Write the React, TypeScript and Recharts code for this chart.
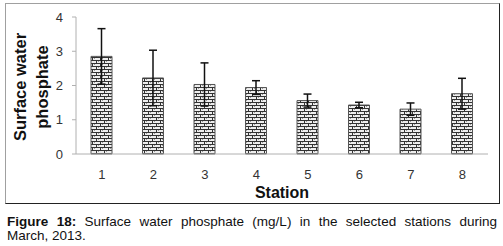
import React from 'react';
import { BarChart, Bar, XAxis, YAxis, ErrorBar } from 'recharts';

const stations = ['1', '2', '3', '4', '5', '6', '7', '8'];
const phosphate = [2.85, 2.22, 2.03, 1.94, 1.56, 1.43, 1.31, 1.76];
const stdDev = [0.81, 0.81, 0.63, 0.2, 0.19, 0.08, 0.18, 0.45];
const yTicks = [0, 1, 2, 3, 4];

const data = stations.map((s, i) => ({ station: s, value: phosphate[i], err: stdDev[i] }));

const font = 'Liberation Sans, Arial, sans-serif';

export default function App() {
  return (
    <div style={{ position: 'absolute', left: 0, top: 0, width: 503, height: 246, background: '#fff', overflow: 'hidden' }}>
      <div
        style={{
          position: 'absolute',
          left: 5,
          top: 3,
          width: 493,
          height: 199,
          borderTop: '1px solid #a0a0a0',
          borderLeft: '1px solid #a0a0a0',
          borderRight: '1px solid #222',
          borderBottom: '1px solid #222',
        }}
      />
      <div style={{ position: 'absolute', left: 0, top: 0 }}>
        <BarChart width={503} height={246} data={data} margin={{ top: 17, right: 15, bottom: 62, left: 56 }}>
          <defs>
            <pattern id="brick" width="8" height="6" patternUnits="userSpaceOnUse">
              <rect x="0" y="0" width="8" height="6" fill="#eeeeee" />
              <rect x="0" y="0" width="8" height="1" fill="#333" />
              <rect x="0" y="3" width="8" height="1" fill="#333" />
              <rect x="0" y="0" width="1" height="3" fill="#333" />
              <rect x="4" y="3" width="1" height="3" fill="#333" />
              <rect x="2" y="1" width="1" height="1" fill="#999" />
              <rect x="6" y="4" width="1" height="1" fill="#999" />
            </pattern>
          </defs>
          <XAxis
            dataKey="station"
            axisLine={{ stroke: '#b0b0b0' }}
            tickLine={false}
            tickMargin={10}
            height={30}
            tick={{ fill: '#333', fontSize: 13, fontFamily: font }}
          />
          <YAxis
            domain={[0, 4]}
            ticks={yTicks}
            width={20}
            axisLine={{ stroke: '#b0b0b0' }}
            tickLine={{ stroke: '#b0b0b0' }}
            tickSize={4}
            tickMargin={9}
            tick={{ fill: '#333', fontSize: 13, fontFamily: font }}
          />
          <Bar dataKey="value" barSize={21} fill="url(#brick)" stroke="#555" strokeWidth={1} isAnimationActive={false}>
            <ErrorBar dataKey="err" width={4} stroke="#111" strokeWidth={1.5} direction="y" />
          </Bar>
        </BarChart>
      </div>
      <div
        style={{
          position: 'absolute',
          left: 282,
          top: 184,
          transform: 'translateX(-50%)',
          fontFamily: font,
          fontWeight: 'bold',
          fontSize: 16,
          lineHeight: '17px',
          color: '#111',
          whiteSpace: 'nowrap',
        }}
      >
        Station
      </div>
      <div
        style={{
          position: 'absolute',
          left: 31,
          top: 87,
          transform: 'translate(-50%, -50%) rotate(-90deg)',
          fontFamily: font,
          fontWeight: 'bold',
          fontSize: 16.5,
          lineHeight: '22px',
          color: '#111',
          textAlign: 'center',
          whiteSpace: 'nowrap',
        }}
      >
        Surface water
        <br />
        phosphate
      </div>
      <div
        style={{
          position: 'absolute',
          left: 7,
          top: 215,
          width: 490,
          fontFamily: font,
          fontSize: 13.5,
          lineHeight: '14px',
          color: '#111',
          textAlign: 'justify',
          textAlignLast: 'justify',
          whiteSpace: 'normal',
        }}
      >
        <b>Figure 18:</b> Surface water phosphate (mg/L) in the selected stations during
      </div>
      <div
        style={{
          position: 'absolute',
          left: 7,
          top: 229,
          fontFamily: font,
          fontSize: 13.5,
          lineHeight: '14px',
          color: '#111',
          whiteSpace: 'nowrap',
        }}
      >
        March, 2013.
      </div>
    </div>
  );
}
